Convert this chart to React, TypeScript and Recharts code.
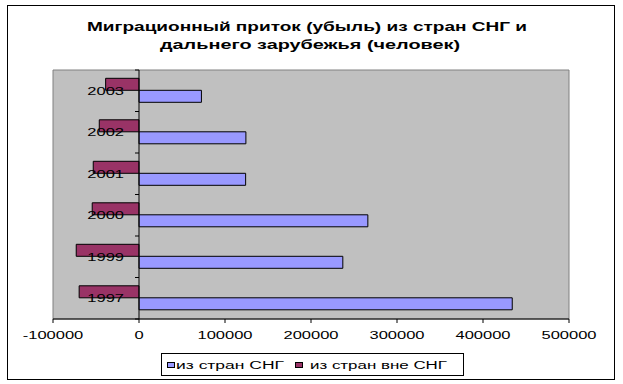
import React from 'react';
import { BarChart, Bar, XAxis, YAxis, CartesianGrid, ReferenceLine, ReferenceArea } from 'recharts';

const years = ['2003', '2002', '2001', '2000', '1999', '1997'];
const fromCIS = [72600, 124300, 124000, 266100, 237000, 434000];
const fromNonCIS = [-38800, -46200, -53200, -54400, -73000, -69600];
const xTicks = [-100000, 0, 100000, 200000, 300000, 400000, 500000];
const titleLines = ['Миграционный приток (убыль) из стран СНГ и', 'дальнего зарубежья (человек)'];
const seriesNames = ['из стран СНГ', 'из стран вне СНГ'];

const data = years.map((y, i) => ({ year: y, cis: fromCIS[i], noncis: fromNonCIS[i] }));

const W = 623;
const H = 384;
const YAXIS_W = 10;
const M = { top: 70, right: 54, bottom: 35, left: 53 - YAXIS_W };
const XAXIS_H = 30;
const X_MIN = xTicks[0];
const X_MAX = xTicks[xTicks.length - 1];
const PLOT_LEFT = M.left + YAXIS_W;
const PLOT_W = W - PLOT_LEFT - M.right;
const PLOT_H = H - M.top - M.bottom - XAXIS_H;
const ZERO_X = PLOT_LEFT + (PLOT_W * (0 - X_MIN)) / (X_MAX - X_MIN);
const BAND = PLOT_H / years.length;
const SX = 1.5;
const FONT = '"Liberation Sans", Arial, sans-serif';
const BLUE = '#9999FF';
const MAROON = '#993366';

const CatTick = (props: any) => {
  const { y, payload, index } = props;
  return (
    <g>
      <text
        transform={`translate(${ZERO_X - 15},${y}) scale(${SX},1)`}
        textAnchor="end"
        dominantBaseline="central"
        fontFamily={FONT}
        fontSize={11}
        fill="#000"
      >
        {payload.value}
      </text>
      <line x1={ZERO_X - 4} x2={ZERO_X} y1={y - BAND / 2} y2={y - BAND / 2} stroke="#000" />
      {index === years.length - 1 ? (
        <line x1={ZERO_X - 4} x2={ZERO_X} y1={y + BAND / 2} y2={y + BAND / 2} stroke="#000" />
      ) : null}
    </g>
  );
};

const XTick = (props: any) => {
  const { x, y, payload } = props;
  return (
    <text
      transform={`translate(${x},${y + 10}) scale(${SX},1)`}
      textAnchor="middle"
      dominantBaseline="central"
      fontFamily={FONT}
      fontSize={11}
      fill="#000"
    >
      {payload.value}
    </text>
  );
};

export default function App() {
  return (
    <div style={{ position: 'absolute', left: 0, top: 0, width: W, height: H, background: '#fff' }}>
      <div
        style={{
          position: 'absolute',
          left: 7,
          top: 5,
          width: 608,
          height: 375,
          border: '1px solid #000',
          boxSizing: 'border-box',
        }}
      />
      <svg style={{ position: 'absolute', left: 0, top: 0 }} width={W} height={60}>
        <text
          x={307}
          y={31}
          textAnchor="middle"
          textLength={440}
          lengthAdjust="spacingAndGlyphs"
          fontFamily={FONT}
          fontWeight="bold"
          fontSize={13.5}
          fill="#000"
        >
          {titleLines[0]}
        </text>
        <text
          x={310}
          y={48.5}
          textAnchor="middle"
          textLength={300}
          lengthAdjust="spacingAndGlyphs"
          fontFamily={FONT}
          fontWeight="bold"
          fontSize={13.5}
          fill="#000"
        >
          {titleLines[1]}
        </text>
      </svg>
      <div style={{ position: 'absolute', left: 0, top: 0 }}>
        <BarChart
          width={W}
          height={H}
          data={data}
          layout="vertical"
          margin={M}
          barCategoryGap="20%"
          barGap={0}
        >
          <CartesianGrid horizontal={false} vertical={false} fill="#C0C0C0" />
          <ReferenceArea x1={X_MIN} x2={X_MAX} fill="none" stroke="#808080" strokeWidth={1} />
          <XAxis
            type="number"
            domain={[X_MIN, X_MAX]}
            ticks={xTicks}
            interval={0}
            height={XAXIS_H}
            tickSize={4}
            axisLine={{ stroke: '#000' }}
            tickLine={{ stroke: '#000' }}
            tick={XTick}
          />
          <Bar dataKey="noncis" name={seriesNames[1]} fill={MAROON} stroke="#000" strokeWidth={1} isAnimationActive={false} />
          <Bar dataKey="cis" name={seriesNames[0]} fill={BLUE} stroke="#000" strokeWidth={1} isAnimationActive={false} />
          <ReferenceLine x={0} stroke="#000" strokeWidth={1} />
          <YAxis
            type="category"
            dataKey="year"
            width={YAXIS_W}
            interval={0}
            axisLine={false}
            tickLine={false}
            tick={CatTick}
          />
        </BarChart>
      </div>
      <svg style={{ position: 'absolute', left: 161, top: 353 }} width={303} height={23}>
        <rect x={0.5} y={0.5} width={302} height={22} fill="#fff" stroke="#000" />
        <rect x={6.5} y={9.5} width={7} height={5} fill={BLUE} stroke="#000" />
        <text
          x={15}
          y={12.5}
          dominantBaseline="central"
          textLength={108}
          lengthAdjust="spacingAndGlyphs"
          fontFamily={FONT}
          fontSize={10}
          fill="#000"
        >
          {seriesNames[0]}
        </text>
        <rect x={134.5} y={9.5} width={7} height={5} fill={MAROON} stroke="#000" />
        <text
          x={149}
          y={12.5}
          dominantBaseline="central"
          textLength={137}
          lengthAdjust="spacingAndGlyphs"
          fontFamily={FONT}
          fontSize={10}
          fill="#000"
        >
          {seriesNames[1]}
        </text>
      </svg>
    </div>
  );
}
